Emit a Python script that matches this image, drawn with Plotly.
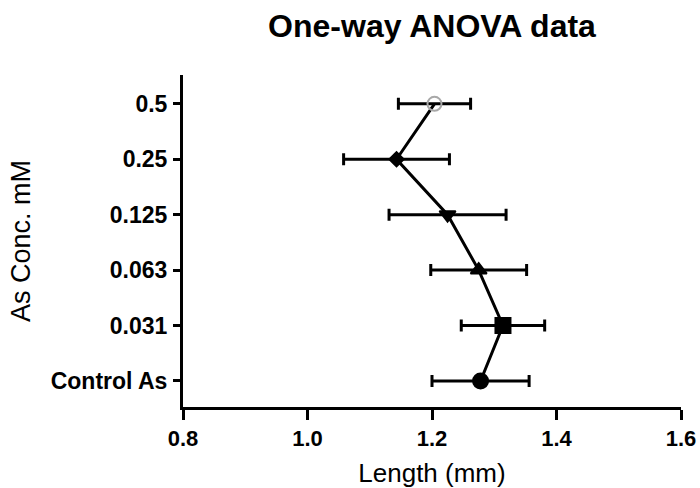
import plotly.graph_objects as go

# Arsenic concentration groups (bottom to top on the category axis)
groups = ["Control As", "0.031", "0.063", "0.125", "0.25", "0.5"]
mean_length = [1.278, 1.314, 1.275, 1.225, 1.143, 1.204]
err_length = [0.078, 0.067, 0.077, 0.094, 0.085, 0.058]

marker_symbols = ["circle", "square", "triangle-up", "triangle-down", "diamond", "circle-open"]
marker_colors = ["#000000", "#000000", "#000000", "#000000", "#000000", "#a8a8a8"]
marker_sizes = [15, 15, 14, 14, 11, 14]

FONT = "Liberation Sans, Arial, sans-serif"

fig = go.Figure()

fig.add_trace(go.Scatter(
    x=mean_length,
    y=groups,
    mode="lines+markers",
    line=dict(color="#000000", width=3),
    marker=dict(
        symbol=marker_symbols,
        color=marker_colors,
        size=marker_sizes,
        opacity=1,
        line=dict(color=marker_colors, width=2),
    ),
    error_x=dict(
        type="data",
        array=err_length,
        color="#000000",
        thickness=3,
        width=6,
    ),
    showlegend=False,
))

fig.update_layout(
    width=700,
    height=488,
    margin=dict(l=183, r=19, t=75, b=81, autoexpand=False),
    paper_bgcolor="white",
    plot_bgcolor="white",
    title=dict(
        text="<b>One-way ANOVA data</b>",
        x=(183 + 681) / 2 / 700,
        xanchor="center",
        y=1 - 26 / 488,
        yanchor="middle",
        yref="container",
        font=dict(family=FONT, size=32, color="black"),
    ),
    xaxis=dict(
        range=[0.8, 1.6],
        automargin=False,
        tickvals=[0.8, 1.0, 1.2, 1.4, 1.6],
        ticktext=["<b>0.8</b>", "<b>1.0</b>", "<b>1.2</b>", "<b>1.4</b>", "<b>1.6</b>"],
        showline=True,
        linecolor="black",
        linewidth=3,
        ticks="outside",
        ticklen=10,
        tickwidth=3,
        tickcolor="black",
        showgrid=False,
        zeroline=False,
        tickfont=dict(family=FONT, size=22, color="black"),
        title=dict(
            text="Length (mm)",
            font=dict(family=FONT, size=26, color="black"),
            standoff=16,
        ),
    ),
    yaxis=dict(
        type="category",
        automargin=False,
        categoryorder="array",
        categoryarray=groups,
        range=[-0.47, 5.52],
        showline=True,
        linecolor="black",
        linewidth=3,
        ticks="outside",
        ticklen=7,
        tickwidth=3,
        tickcolor="black",
        showgrid=False,
        zeroline=False,
        tickfont=dict(family=FONT, size=23, color="black", weight="bold"),
        ticklabelstandoff=1,
        title=dict(
            text="As Conc. mM",
            font=dict(family=FONT, size=27, color="black"),
            standoff=13,
        ),
    ),
)

fig.write_html("out.html")
